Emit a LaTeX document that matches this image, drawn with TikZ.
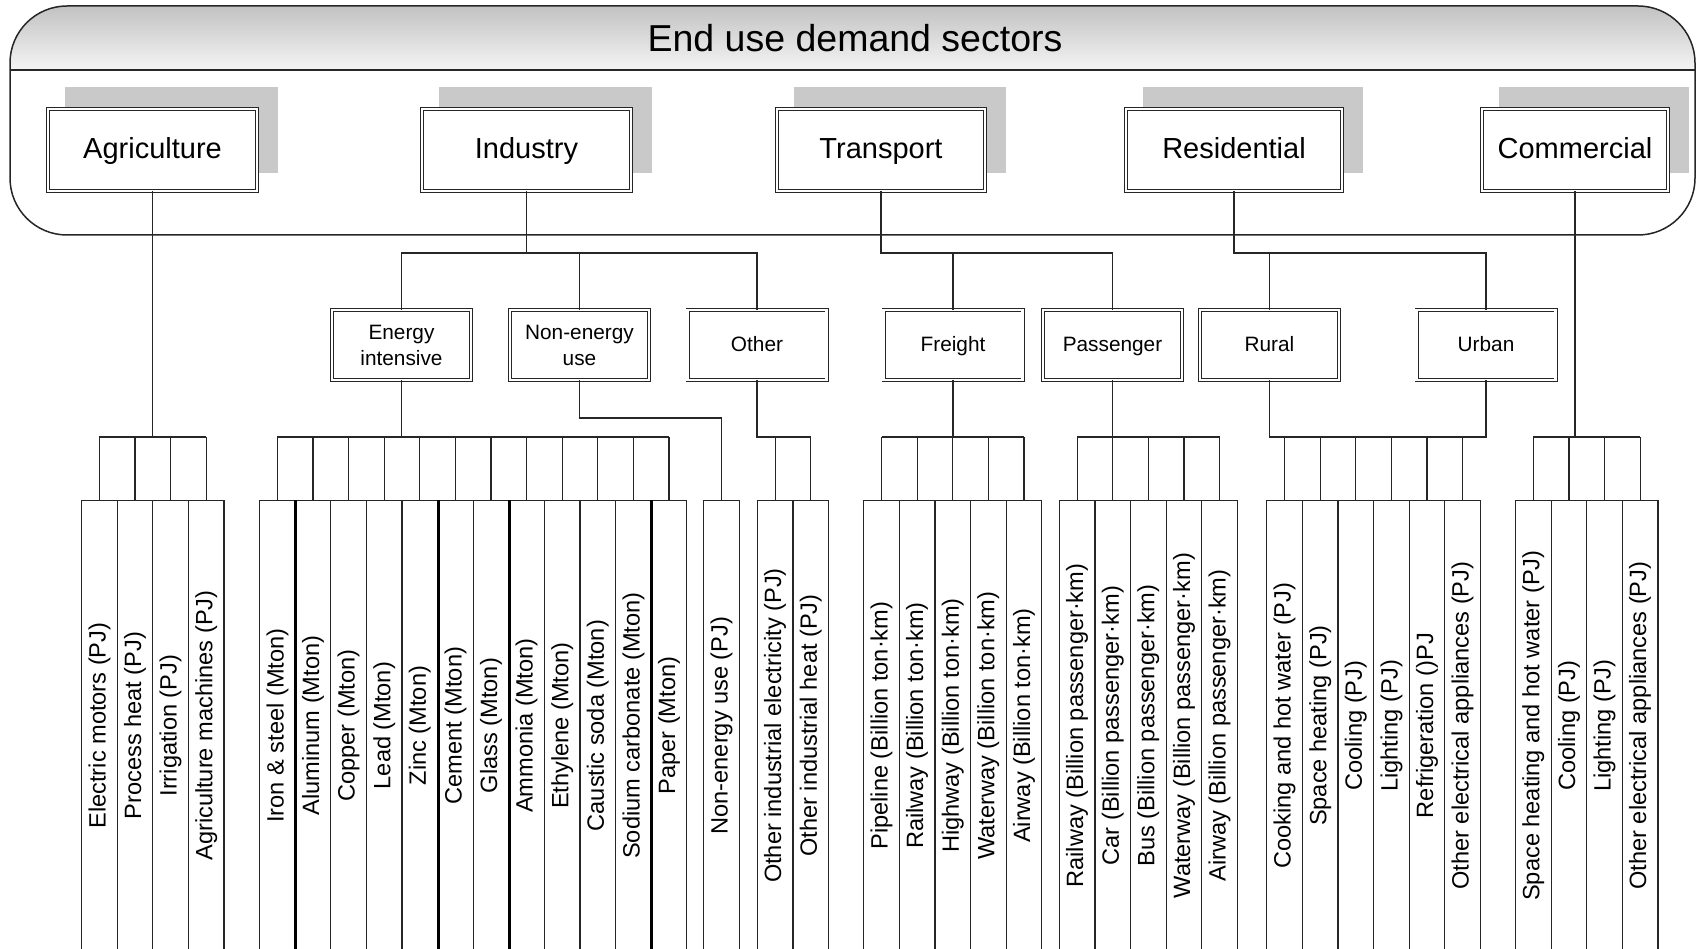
\documentclass[tikz,border=0pt]{standalone}
\usepackage{fontspec}
\setmainfont{Liberation Sans}
\begin{document}
\begin{tikzpicture}[x=1pt,y=-1pt,
  ln/.style={line width=1.2pt, draw=black!85},
  topbox/.style={draw=black!85, double, double distance=2.4pt, line width=1pt, fill=white,
    minimum height=81.6pt, inner sep=0pt, text height=20.8pt, text depth=3.6pt,
    font=\fontsize{29}{34}\selectfont},
  midbox/.style={draw=black!85, double, double distance=2.2pt, line width=0.9pt, fill=white,
    minimum width=139pt, minimum height=70pt, inner sep=0pt, align=center,
    font=\fontsize{20.8}{26}\selectfont},
  oneline/.style={text height=14.9pt, text depth=1.8pt},
  shad/.style={fill=black!21, draw=none},
  leaf/.style={draw=black!85, line width=1.2pt, rotate=90, anchor=east,
    minimum width=450pt, minimum height=35.6pt, inner sep=0pt,
    font=\fontsize{23.6}{28}\selectfont},
  sep/.style={line width=3pt, draw=black},
]
\useasboundingbox (0,0) rectangle (1697,949);

% container
\begin{scope}
  \clip[rounded corners=57pt] (10,6) rectangle (1695,235);
  \shade[top color=black!24, bottom color=black!4] (10,6) rectangle (1695,70);
\end{scope}
\draw[line width=1.5pt, black!85, rounded corners=57pt] (10,6) rectangle (1695,235);
\draw[line width=1.5pt, black!85] (10,70) -- (1695,70);
\node[font=\fontsize{37.5}{42}\selectfont] (title) at (855,38) {End use demand sectors};

% shadows
\fill[shad] (65,87) rectangle (278,173);
\fill[shad] (439,87) rectangle (652,173);
\fill[shad] (794,87) rectangle (1006,173);
\fill[shad] (1143,87) rectangle (1363,173);
\fill[shad] (1499,87) rectangle (1689,173);

% top level
\node[topbox, minimum width=208.6pt] (agr) at (152.5,150) {Agriculture};
\node[topbox, minimum width=208.6pt] (ind) at (526.5,150) {Industry};
\node[topbox, minimum width=207.6pt] (tra) at (881,150) {Transport};
\node[topbox, minimum width=215.6pt] (res) at (1234,150) {Residential};
\node[topbox, minimum width=185.6pt] (com) at (1575,150) {Commercial};

% second level
\node[midbox] (ei) at (401.5,345) {Energy\\intensive};
\node[midbox] (ne) at (579.5,345) {Non-energy\\use};
\node[midbox, oneline] (oth) at (757,345) {Other};
\node[midbox, oneline] (fre) at (953,345) {Freight};
\node[midbox, oneline] (pas) at (1112.5,345) {Passenger};
\node[midbox, oneline] (rur) at (1269.5,345) {Rural};
\node[midbox, oneline] (urb) at (1486,345) {Urban};

% leaves
\foreach \t [count=\i] in {Electric motors (PJ), Process heat (PJ), Irrigation (PJ), Agriculture machines (PJ)}
  \node[leaf] (agr-\i) at ({81.6+35.6*(\i-0.5)},500) {\t};
\foreach \t [count=\i] in {Iron \& steel (Mton), Aluminum (Mton), Copper (Mton), Lead (Mton), Zinc (Mton), Cement (Mton), Glass (Mton), Ammonia (Mton), Ethylene (Mton), Caustic soda (Mton), Sodium carbonate (Mton), Paper (Mton)}
  \node[leaf] (ei-\i) at ({259.6+35.6*(\i-0.5)},500) {\t};
\node[leaf] (ne-1) at (721.6,500) {Non-energy use (PJ)};
\foreach \t [count=\i] in {Other industrial electricity (PJ), Other industrial heat (PJ)}
  \node[leaf] (oth-\i) at ({757.3+35.6*(\i-0.5)},500) {\t};
\foreach \t [count=\i] in {Pipeline (Billion ton·km), Railway (Billion ton·km), Highway (Billion ton·km), Waterway (Billion ton·km), Airway (Billion ton·km)}
  \node[leaf] (fre-\i) at ({863.7+35.6*(\i-0.5)},500) {\t};
\foreach \t [count=\i] in {Railway (Billion passenger·km), Car (Billion passenger·km), Bus (Billion passenger·km), Waterway (Billion passenger·km), Airway (Billion passenger·km)}
  \node[leaf] (pas-\i) at ({1059.3+35.6*(\i-0.5)},500) {\t};
\foreach \t [count=\i] in {Cooking and hot water (PJ), Space heating (PJ), Cooling (PJ), Lighting (PJ), Refrigeration ()PJ, Other electrical appliances (PJ)}
  \node[leaf] (res-\i) at ({1266.8+35.6*(\i-0.5)},500) {\t};
\foreach \t [count=\i] in {Space heating and hot water (PJ), Cooling (PJ), Lighting (PJ), Other electrical appliances (PJ)}
  \node[leaf] (com-\i) at ({1515.5+35.6*(\i-0.5)},500) {\t};

% thick separators
\foreach \i in {1,5,7,11}
  \draw[sep] (ei-\i.south east) -- (ei-\i.south west);

% ticks
\foreach \g/\n in {agr/4, ei/12, oth/2, fre/5, pas/5, res/6, com/4}
  \foreach \i in {1,...,\n}
    \draw[ln] (\g-\i.east) -- (\g-\i.east |- 0,437);

% leaf buses
\draw[ln] (agr-1.east |- 0,437) -- (agr-4.east |- 0,437);
\draw[ln] (ei-1.east |- 0,437) -- (ei-12.east |- 0,437);
\draw[ln] (fre-1.east |- 0,437) -- (fre-5.east |- 0,437);
\draw[ln] (pas-1.east |- 0,437) -- (pas-5.east |- 0,437);
\draw[ln] (com-1.east |- 0,437) -- (com-4.east |- 0,437);

% connectors
\draw[ln] (agr.south) -- (agr.south |- 0,437);
\draw[ln] (ind.south) -- (ind.south |- 0,253);
\draw[ln] (ei.north) |- (oth.north |- 0,253) -- (oth.north);
\draw[ln] (ne.north) -- (ne.north |- 0,253);
\draw[ln] (ei.south) -- (ei.south |- 0,437);
\draw[ln] (ne.south) -- (ne.south |- 0,418) -| (ne-1.east);
\draw[ln] (oth.south) |- (oth-2.east |- 0,437);
\draw[ln] (tra.south) |- (pas.north |- 0,253) -- (pas.north);
\draw[ln] (fre.north) -- (fre.north |- 0,253);
\draw[ln] (fre.south) -- (fre.south |- 0,437);
\draw[ln] (pas.south) -- (pas.south |- 0,437);
\draw[ln] (res.south) |- (urb.north |- 0,253) -- (urb.north);
\draw[ln] (rur.north) -- (rur.north |- 0,253);
\draw[ln] (rur.south) |- (urb.south |- 0,437) -- (urb.south);
\draw[ln] (com.south) -- (com.south |- 0,437);
\end{tikzpicture}
\end{document}
